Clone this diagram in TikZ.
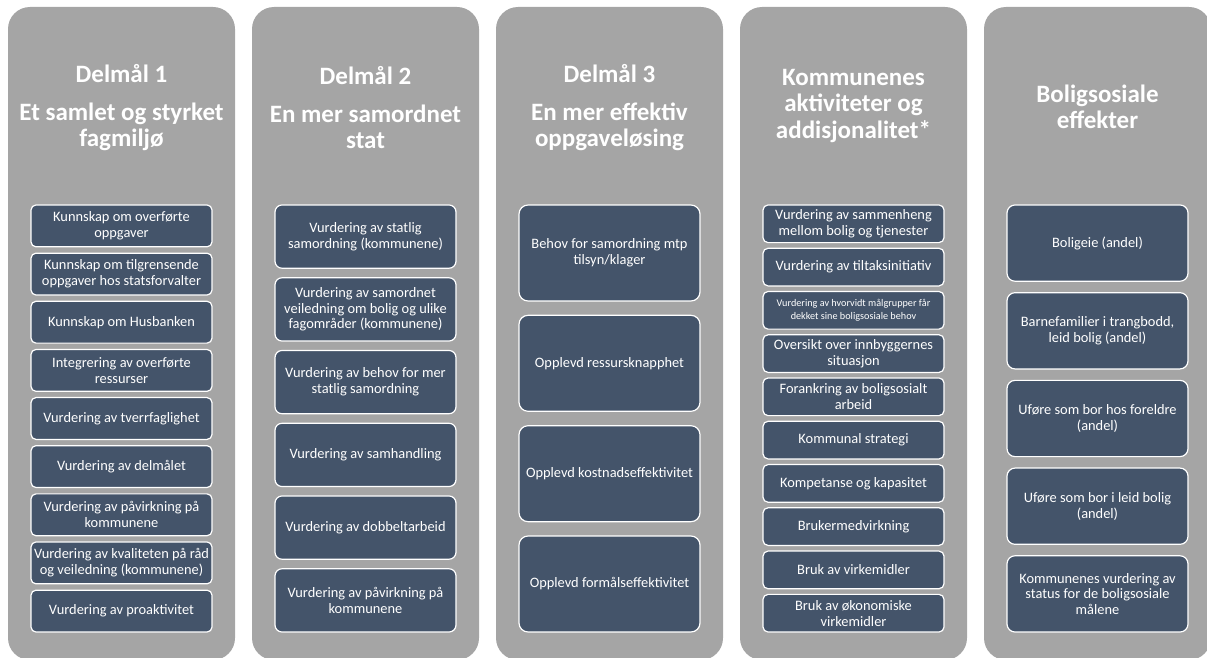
\documentclass[tikz,border=0pt]{standalone}
\usepackage{fontspec}
\setmainfont{Carlito}
\definecolor{colbg}{HTML}{A5A5A5}
\definecolor{boxbg}{HTML}{44546A}
\tikzset{
  colpanel/.style={fill=colbg, rounded corners=22pt},
  coltitle/.style={text=white, font=\bfseries\fontsize{25}{26.5}\selectfont, align=center, inner sep=0pt},
  item/.style={draw=white, line width=1.2pt, fill=boxbg, text=white, minimum width=181pt,
    align=center, font=\fontsize{14.4}{15.8}\selectfont, inner sep=2pt},
  h1/.style={item, minimum height=41.86pt, rounded corners=5pt},
  h2/.style={item, minimum height=63.26pt, rounded corners=7pt},
  h3/.style={item, minimum height=95.96pt, rounded corners=9pt},
  h4/.style={item, minimum height=37.62pt, rounded corners=5pt},
  h5/.style={item, minimum height=76.25pt, rounded corners=8pt},
}
\begin{document}
\begin{tikzpicture}[x=1pt,y=-1pt]
\useasboundingbox (0,0) rectangle (1207,658);
\clip (0,0) rectangle (1207,658);
\foreach \x in {8,252,496,740,984} \fill[colpanel] (\x,7) rectangle ++(227,653);

% titles
\node[coltitle] (t1) at (121.5,108) {Delmål 1\\[11pt]Et samlet og styrket\\fagmiljø};
\node[coltitle] (t2) at (365.5,108) {Delmål 2\\[11pt]En mer samordnet\\stat};
\node[coltitle] (t3) at (609.5,108) {Delmål 3\\[11pt]En mer effektiv\\oppgaveløsing};
\node[coltitle] (t4) at (853.5,106) {Kommunenes\\aktiviteter og\\addisjonalitet*};
\node[coltitle] (t5) at (1097.5,107) {Boligsosiale\\effekter};

% column 1
\node[h1] (a1) at (121.5,225.9) {Kunnskap om overførte\\oppgaver};
\node[h1] (a2) at (121.5,274.1) {Kunnskap om tilgrensende\\oppgaver hos statsforvalter};
\node[h1] (a3) at (121.5,322.2) {Kunnskap om Husbanken};
\node[h1] (a4) at (121.5,370.4) {Integrering av overførte\\ressurser};
\node[h1] (a5) at (121.5,418.5) {Vurdering av tverrfaglighet};
\node[h1] (a6) at (121.5,466.6) {Vurdering av delmålet};
\node[h1] (a7) at (121.5,514.8) {Vurdering av påvirkning på\\kommunene};
\node[h1] (a8) at (121.5,562.9) {Vurdering av kvaliteten på råd\\og veiledning (kommunene)};
\node[h1] (a9) at (121.5,611.1) {Vurdering av proaktivitet};

% column 2
\node[h2] (b1) at (365.5,236.6) {Vurdering av statlig\\samordning (kommunene)};
\node[h2] (b2) at (365.5,309.4) {Vurdering av samordnet\\veiledning om bolig og ulike\\fagområder (kommunene)};
\node[h2] (b3) at (365.5,382.1) {Vurdering av behov for mer\\statlig samordning};
\node[h2] (b4) at (365.5,454.9) {Vurdering av samhandling};
\node[h2] (b5) at (365.5,527.6) {Vurdering av dobbeltarbeid};
\node[h2] (b6) at (365.5,600.4) {Vurdering av påvirkning på\\kommunene};

% column 3
\node[h3] (c1) at (609.5,253.0) {Behov for samordning mtp\\tilsyn/klager};
\node[h3] (c2) at (609.5,363.3) {Opplevd ressursknapphet};
\node[h3] (c3) at (609.5,473.7) {Opplevd kostnadseffektivitet};
\node[h3] (c4) at (609.5,584.0) {Opplevd formålseffektivitet};

% column 4
\node[h4] (d1) at (853.5,223.8) {Vurdering av sammenheng\\mellom bolig og tjenester};
\node[h4] (d2) at (853.5,267.1) {Vurdering av tiltaksinitiativ};
\node[h4, font=\fontsize{10.2}{12.4}\selectfont] (d3) at (853.5,310.3) {Vurdering av hvorvidt målgrupper får\\dekket sine boligsosiale behov};
\node[h4] (d4) at (853.5,353.6) {Oversikt over innbyggernes\\situasjon};
\node[h4] (d5) at (853.5,396.8) {Forankring av boligsosialt\\arbeid};
\node[h4] (d6) at (853.5,440.1) {Kommunal strategi};
\node[h4] (d7) at (853.5,483.4) {Kompetanse og kapasitet};
\node[h4] (d8) at (853.5,526.6) {Brukermedvirkning};
\node[h4] (d9) at (853.5,569.9) {Bruk av virkemidler};
\node[h4] (d10) at (853.5,613.2) {Bruk av økonomiske\\virkemidler};

% column 5
\node[h5] (e1) at (1097.5,243.1) {Boligeie (andel)};
\node[h5] (e2) at (1097.5,330.8) {Barnefamilier i trangbodd,\\leid bolig (andel)};
\node[h5] (e3) at (1097.5,418.5) {Uføre som bor hos foreldre\\(andel)};
\node[h5] (e4) at (1097.5,506.2) {Uføre som bor i leid bolig\\(andel)};
\node[h5] (e5) at (1097.5,593.9) {Kommunenes vurdering av\\status for de boligsosiale\\målene};
\end{tikzpicture}
\end{document}
